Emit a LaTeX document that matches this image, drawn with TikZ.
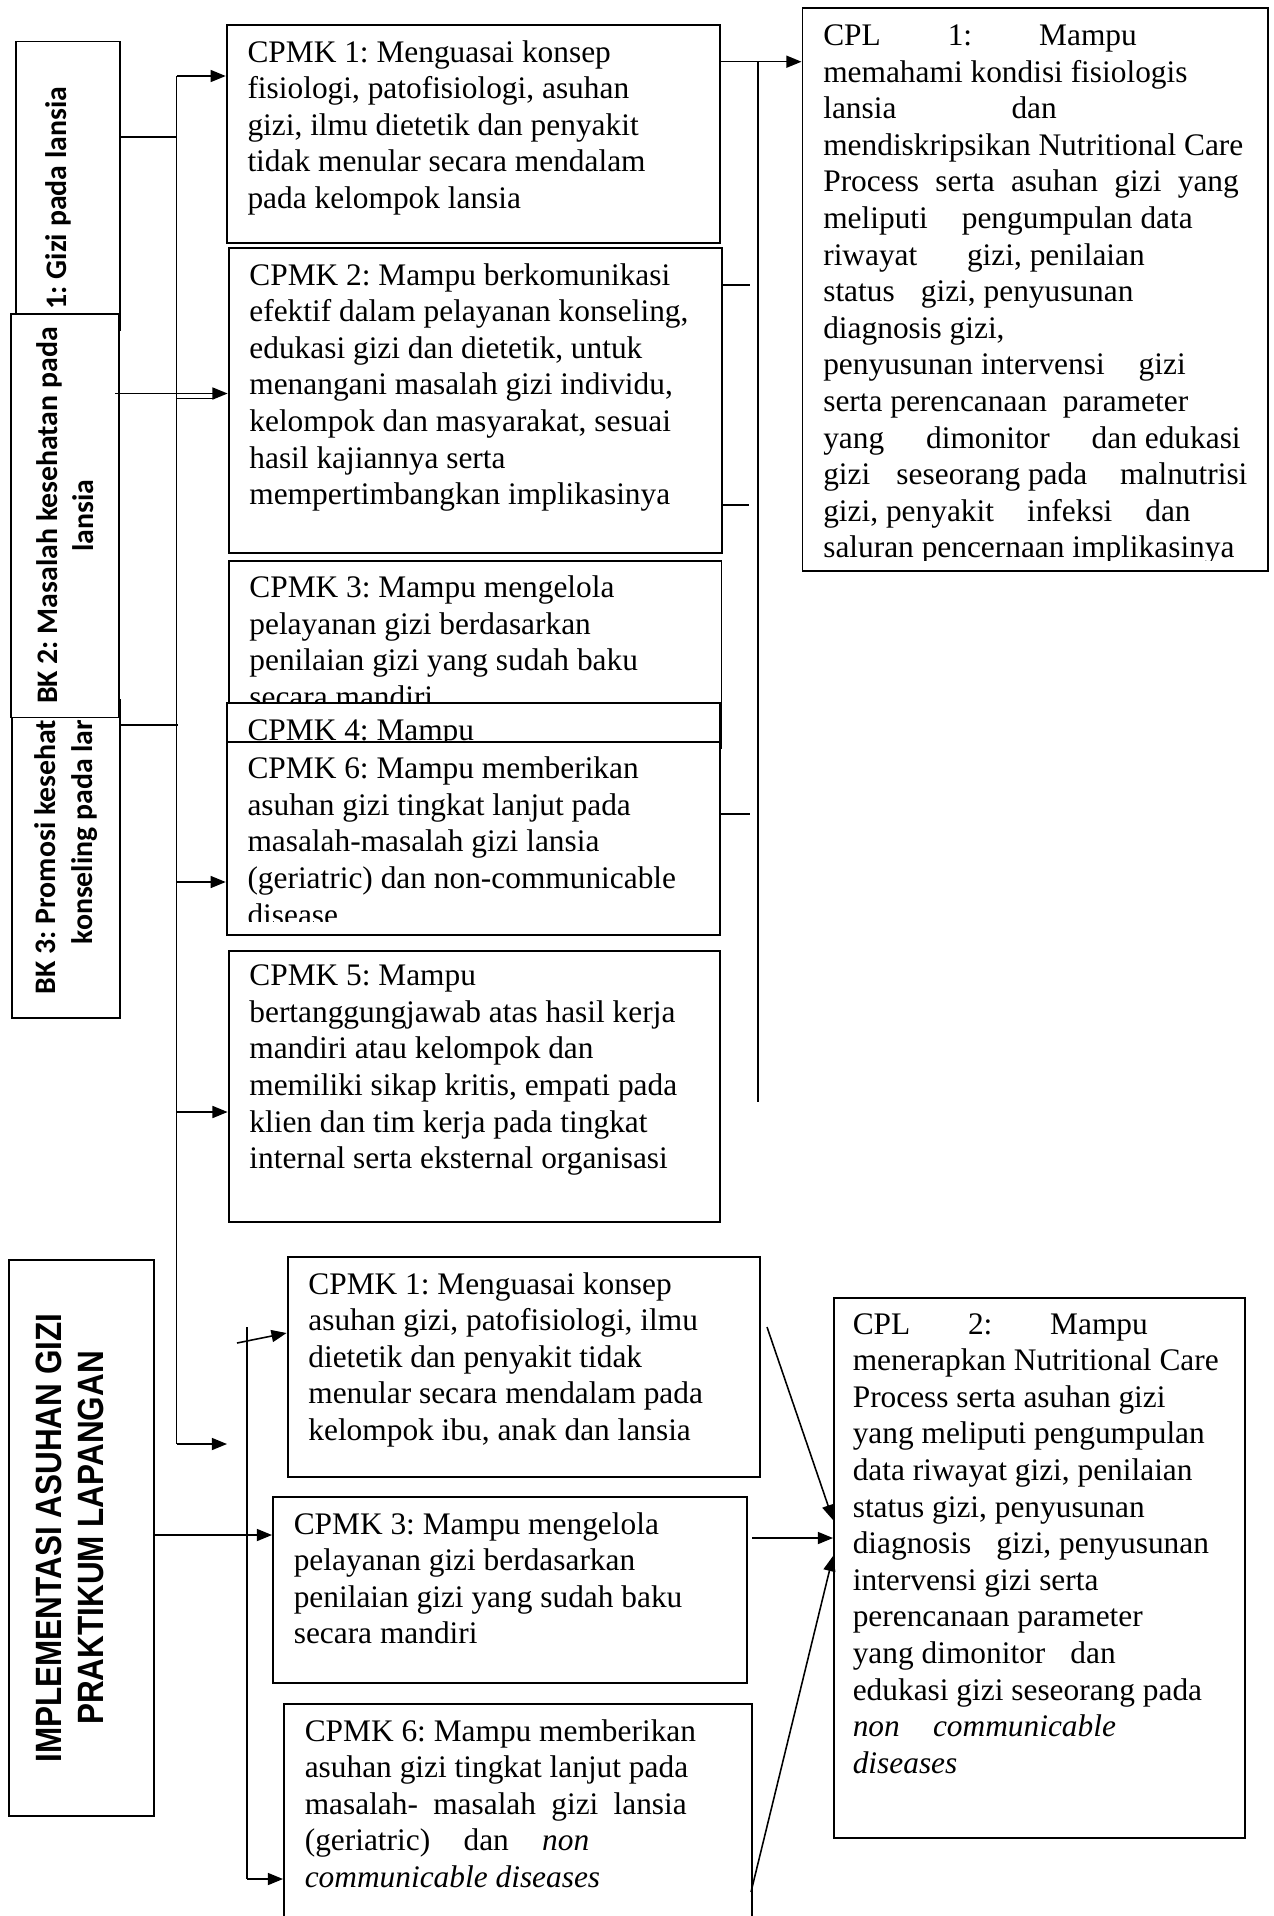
\documentclass[tikz,border=0pt]{standalone}
\usepackage{fontspec}
\setmainfont{Liberation Serif}
\newfontfamily\bkfont{Carlito}
\newfontfamily\implfont[FakeStretch=0.86]{Liberation Sans}
\usetikzlibrary{arrows.meta,fit}
\frenchspacing

% one pixel of the source picture
\newlength{\px}
\setlength{\px}{0.3825pt}
% a line spread out to a given width (in px)
\newcommand{\jl}[2]{\makebox[#1\px][s]{#2}}

\begin{document}
\begin{tikzpicture}[
        x=0.3825pt, y=-0.3825pt,
        >={Triangle[length=5.8pt,width=4.6pt]},
        line width=0.6pt,
        box/.style={draw, line width=0.75pt, fill=white, inner sep=0pt},
        txt/.style={anchor=base west, inner sep=0pt, text width=200pt,
                    font=\fontsize{12}{14}\selectfont,
                    execute at begin node={\spaceskip=0pt\xspaceskip=0pt\rightskip=0pt plus 1fil\relax}},
        bk/.style={rotate=90, inner sep=0pt, font=\bkfont\bfseries\fontsize{11.4}{14}\selectfont},
        impl/.style={rotate=90, inner sep=0pt, align=center,
                     font=\implfont\bfseries\fontsize{14}{16}\selectfont}
    ]
  \useasboundingbox (0,0) rectangle (1274,1916);

  % Nodes
  % BK boxes, BK 2 lies over the other two
  \node[box, fit={(15.7,41.5) (120,330)}] (bk1) {};
  \node[bk, anchor=west] (bk1t) at (58,310) {1: Gizi pada lansia};
  \node[box, fit={(12.3,700) (120,1018)}] (bk3) {};
  \node[bk, anchor=east, align=right] (bk3t) at (66,719) {BK 3: Promosi kesehat\\konseling pada lar};
  \node[box, fit={(10.7,313.8) (119.3,717.5)}] (bk2) {};
  \node[bk, align=center] (bk2t) at (bk2.center) {BK 2: Masalah kesehatan pada\\lansia};

  % CPMK boxes, upper group
  \node[box, fit={(226.7,25) (719.6,243)}] (c1) {};
  \node[txt] (c1t) at ([shift={(21,38)}]c1.north west) {CPMK 1: Menguasai konsep\\fisiologi, patofisiologi, asuhan\\gizi, ilmu dietetik dan penyakit\\tidak menular secara mendalam\\pada kelompok lansia};
  \node[box, fit={(228.6,248) (722,553)}] (c2) {};
  \node[txt] (c2t) at ([shift={(21,38)}]c2.north west) {CPMK 2: Mampu berkomunikasi\\efektif dalam pelayanan konseling,\\edukasi gizi dan dietetik, untuk\\menangani masalah gizi individu,\\kelompok dan masyarakat, sesuai\\hasil kajiannya serta\\mempertimbangkan implikasinya};
  \node[box, fit={(228.6,560.6) (721.5,748)}] (c3) {};
  \node[txt] (c3t) at ([shift={(21,38)}]c3.north west) {CPMK 3: Mampu mengelola\\pelayanan gizi berdasarkan\\penilaian gizi yang sudah baku\\secara mandiri};
  \node[box, fit={(226.7,703) (719.6,760)}] (c4) {};
  \node[txt] (c4t) at ([shift={(21,38)}]c4.north west) {CPMK 4: Mampu};
  \node[box, fit={(226.7,741.7) (719.6,935)}] (c6) {};
  \begin{scope}
    \clip (226.7,741.7) rectangle (719.6,921);
    \node[txt] (c6t) at ([shift={(21,38)}]c6.north west) {CPMK 6: Mampu memberikan\\asuhan gizi tingkat lanjut pada\\masalah-masalah gizi lansia\\(geriatric) dan non-communicable\\disease};
  \end{scope}
  \node[box, fit={(228.6,950.6) (720,1222)}] (c5) {};
  \node[txt] (c5t) at ([shift={(21,36)}]c5.north west) {CPMK 5: Mampu\\bertanggungjawab atas hasil kerja\\mandiri atau kelompok dan\\memiliki sikap kritis, empati pada\\klien dan tim kerja pada tingkat\\internal serta eksternal organisasi};

  % CPL 1
  \node[box, fit={(802.5,8.4) (1268,571)}] (cpl1) {};
  \begin{scope}
    \clip (802.5,8.4) rectangle (1268,560);
    \node[txt] (cpl1t) at ([shift={(21,38)}]cpl1.north west) {\jl{313.5}{CPL 1: Mampu}\\memahami kondisi fisiologis\\\jl{233.5}{lansia dan}\\mendiskripsikan Nutritional Care\\\jl{415.5}{Process serta asuhan gizi yang}\\meliputi\hspace{13pt}pengumpulan data\\riwayat\hspace{19pt}gizi, penilaian\\status\hspace{10pt}gizi, penyusunan\\diagnosis gizi,\\penyusunan intervensi\hspace{13pt}gizi\\serta perencanaan\hspace{6pt}parameter\\yang\hspace{16pt}dimonitor\hspace{16pt}dan edukasi\\gizi\hspace{10pt}seseorang pada\hspace{12.6pt}malnutrisi\\gizi, penyakit\hspace{12.6pt}infeksi\hspace{12.6pt}dan\\saluran pencernaan implikasinya};
  \end{scope}

  % lower group
  \node[box, fit={(9,1260) (154,1816)}] (impl) {};
  \node[impl] (implt) at (69.5,1538) {IMPLEMENTASI ASUHAN GIZI\\PRAKTIKUM LAPANGAN};
  \node[box, fit={(287.6,1257) (760,1477)}] (c1b) {};
  \node[txt] (c1bt) at ([shift={(21,38)}]c1b.north west) {CPMK 1: Menguasai konsep\\asuhan gizi, patofisiologi, ilmu\\dietetik dan penyakit tidak\\menular secara mendalam pada\\kelompok ibu, anak dan lansia};
  \node[box, fit={(273,1497) (746.6,1683)}] (c3b) {};
  \node[txt] (c3bt) at ([shift={(21,38)}]c3b.north west) {CPMK 3: Mampu mengelola\\pelayanan gizi berdasarkan\\penilaian gizi yang sudah baku\\secara mandiri};
  \node[box, fit={(284,1704) (751.6,1920)}] (c6b) {};
  \node[txt] (c6bt) at ([shift={(21,38)}]c6b.north west) {CPMK 6: Mampu memberikan\\asuhan gizi tingkat lanjut pada\\\jl{382}{masalah- masalah gizi lansia}\\\jl{284.5}{(geriatric) dan \textit{non}}\\\textit{communicable diseases}};
  \node[box, fit={(834,1298) (1245,1838)}] (cpl2) {};
  \node[txt] (cpl2t) at ([shift={(19,37)}]cpl2.north west) {\jl{295}{CPL 2: Mampu}\\menerapkan Nutritional Care\\Process serta asuhan gizi\\yang meliputi pengumpulan\\data riwayat gizi, penilaian\\status gizi, penyusunan\\diagnosis\hspace{9.6pt}gizi, penyusunan\\intervensi gizi serta\\perencanaan parameter\\yang dimonitor\hspace{9.6pt}dan\\edukasi gizi seseorang pada\\\textit{non\hspace{12.7pt}communicable}\\\textit{diseases}};

  % Connectors, left bus
  \coordinate (busT) at (176.7,76);
  \coordinate (busB) at (176.7,1444);
  \draw (busT) -- (busB);
  \draw[->] (busT) -- (c1.west |- busT);
  \coordinate (j1) at (176.7,137);
  \draw (bk1.east |- j1) -- (j1);
  \coordinate (k2) at (115,393.5);
  \draw[->] (k2) -- (c2.west |- k2);
  \coordinate (j2) at (176.7,398.6);
  \coordinate (j2e) at (213,398.6);
  \draw (j2) -- (j2e);
  \coordinate (j3) at (178,725);
  \draw (bk3.east |- j3) -- (j3);
  \coordinate (j4) at (176.7,882);
  \draw[->] (j4) -- (c6.west |- j4);
  \coordinate (j5) at (176.7,1112);
  \draw[->] (j5) -- (c5.west |- j5);
  \coordinate (e1) at (227,1444);
  \draw[->] (busB) -- (e1);

  % right bus to CPL 1
  \coordinate (rT) at (758,61.7);
  \coordinate (rB) at (758,1102);
  \draw (rT) -- (rB);
  \draw[->] (c1.east |- rT) -- (cpl1.west |- rT);
  \coordinate (s1) at (750,285);
  \coordinate (s2) at (749,505);
  \coordinate (s3) at (750,814);
  \draw (c2.east |- s1) -- (s1);
  \draw (c2.east |- s2) -- (s2);
  \draw (c6.east |- s3) -- (s3);

  % lower arrows
  \coordinate (vT) at (247,1327);
  \coordinate (vB) at (247,1879);
  \draw (vT) -- (vB);
  \coordinate (sl) at (237,1343);
  \draw[->] (sl) -- (c1b.west |- 0,1333);
  \draw[->] (vB) -- (c6b.west |- vB);
  \draw[->] (impl.east |- 0,1535) -- (c3b.west |- 0,1535);
  \coordinate (d1) at (767,1327);
  \coordinate (d2) at (752,1538);
  \coordinate (d3) at (751,1892);
  \draw[->] (d1) -- (cpl2.west |- 0,1520);
  \draw[->] (d2) -- (cpl2.west |- d2);
  \draw[->] (d3) -- (cpl2.west |- 0,1556);
\end{tikzpicture}
\end{document}
